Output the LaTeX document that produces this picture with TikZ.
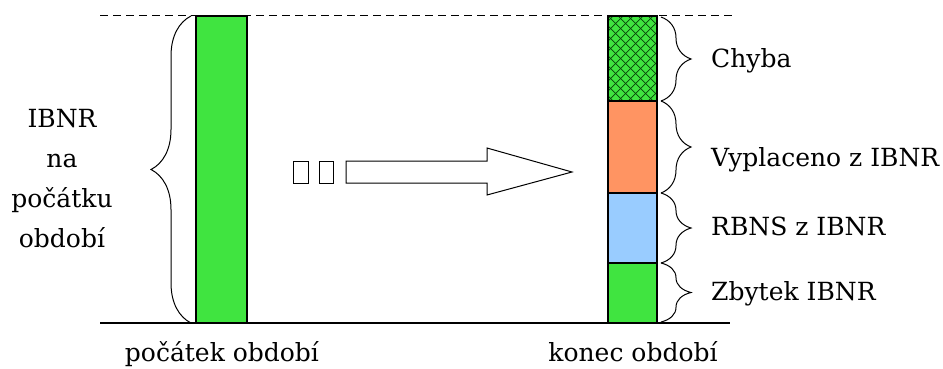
\documentclass[tikz,border=0pt]{standalone}
\usepackage{fontspec}
\setmainfont{DejaVu Serif}
\usetikzlibrary{decorations.pathreplacing}
\definecolor{barGreen}{RGB}{64,228,64}
\definecolor{barOrange}{RGB}{255,148,98}
\definecolor{barBlue}{RGB}{153,204,255}
\definecolor{hatchDark}{RGB}{10,70,10}
\tikzset{
  lbl/.style={font=\fontsize{25}{28}\selectfont, inner sep=0pt},
  barbox/.style={draw=black, line width=1.2pt},
  bigbrace/.style={decorate, decoration={brace, amplitude=40pt}, line width=1pt},
  smallbrace/.style={decorate, decoration={brace, amplitude=30pt}, line width=1pt},
}
\begin{document}
\begin{tikzpicture}[x=1pt,y=-1pt]
\useasboundingbox (0,0) rectangle (943,369);
% baseline lines
\draw[dash pattern=on 8pt off 5pt, line width=1pt] (100,16) -- (733,16);
\draw[line width=1.2pt] (100,323) -- (730,323);
% left bar
\draw[barbox, fill=barGreen] (196,16) rectangle (247,323);
% left brace
\coordinate (lb1) at (191,323);
\coordinate (lb2) at (191,16);
\draw[bigbrace] (lb1) -- (lb2);
\node[lbl, anchor=base] (t1) at (62,127) {IBNR};
\node[lbl, anchor=base] (t2) at (62,167) {na};
\node[lbl, anchor=base] (t3) at (62,207) {počátku};
\node[lbl, anchor=base] (t4) at (62,247) {období};
% right bar segments
\fill[barGreen] (608,16) rectangle (657,101);
\begin{scope}
\clip (608,16) rectangle (657,101);
\foreach \k in {-120,-110,...,160} {
  \draw[hatchDark, line width=0.7pt] (608+\k,16) -- ++(100,100);
  \draw[hatchDark, line width=0.7pt] (608+\k,101) -- ++(100,-100);
}
\end{scope}
\draw[barbox] (608,16) rectangle (657,101);
\draw[barbox, fill=barOrange] (608,101) rectangle (657,193);
\draw[barbox, fill=barBlue] (608,193) rectangle (657,263);
\draw[barbox, fill=barGreen] (608,263) rectangle (657,323);
% right braces
\coordinate (r0) at (661,17);
\coordinate (r1) at (661,101);
\coordinate (r2) at (661,193);
\coordinate (r3) at (661,263);
\coordinate (r4) at (661,322);
\draw[smallbrace] (r0) -- (r1);
\draw[smallbrace] (r1) -- (r2);
\draw[smallbrace] (r2) -- (r3);
\draw[smallbrace] (r3) -- (r4);
\node[lbl, anchor=base west] (c1) at (711,68) {Chyba};
\node[lbl, anchor=base west] (c2) at (711,166) {Vyplaceno z IBNR};
\node[lbl, anchor=base west] (c3) at (711,235) {RBNS z IBNR};
\node[lbl, anchor=base west] (c4) at (711,300) {Zbytek IBNR};
% arrow
\draw[line width=1pt] (293,161) rectangle (308,183);
\draw[line width=1pt] (319,161) rectangle (333,183);
\draw[line width=1pt, line join=miter] (346,161) -- (487,161) -- (487,148) -- (572,172) -- (487,195) -- (487,183) -- (346,183) -- cycle;
% bottom labels
\node[lbl, anchor=base] (b1) at (222,361) {počátek období};
\node[lbl, anchor=base] (b2) at (633,361) {konec období};
\end{tikzpicture}
\end{document}
